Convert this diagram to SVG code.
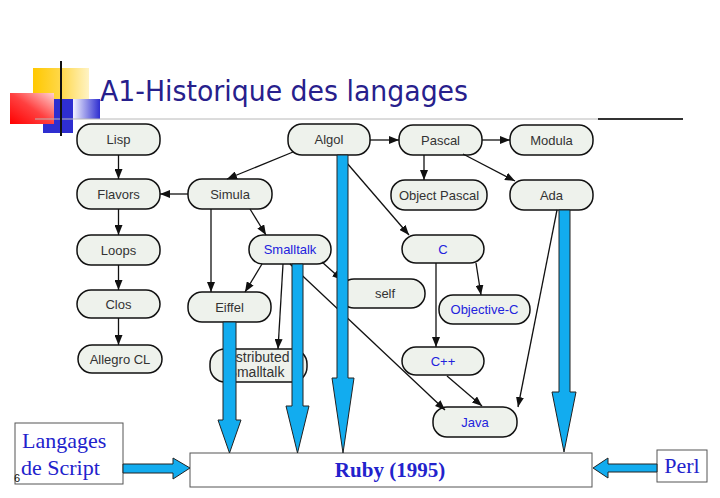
<svg xmlns="http://www.w3.org/2000/svg" width="720" height="498" viewBox="0 0 720 498">
  <style>
    .node rect { fill: #eef2ec; stroke: #111; stroke-width: 1.5; }
    .node text { font-family: "Liberation Sans", Arial, sans-serif; font-size: 13px; fill: #333; text-anchor: middle; }
    .node text.blue { fill: #2222dd; }
    .node text.small { font-size: 14px; }
    .edge { stroke: #111; stroke-width: 1.3; fill: none; marker-end: url(#head); }
    .big { fill: #12acef; stroke: #222; stroke-width: 1; stroke-linejoin: miter; }
    .box { fill: #fff; stroke: #555; stroke-width: 1; }
    .serif { font-family: "Liberation Serif", "Times New Roman", serif; fill: #2222cc; }
  </style>
  <defs>
    <marker id="head" markerWidth="10" markerHeight="8" refX="10" refY="4" orient="auto" markerUnits="userSpaceOnUse">
      <path d="M0,0 L10,4 L0,8 z" fill="#111"/>
    </marker>
    <linearGradient id="gYellow" x1="0" y1="0" x2="1" y2="0">
      <stop offset="0" stop-color="#ffc800"/>
      <stop offset="0.5" stop-color="#ffd84a"/>
      <stop offset="1" stop-color="#fff3c4"/>
    </linearGradient>
    <linearGradient id="gRed" x1="0" y1="1" x2="1" y2="0">
      <stop offset="0" stop-color="#ff0000"/>
      <stop offset="0.5" stop-color="#ff4040"/>
      <stop offset="1" stop-color="#ffd0d0"/>
    </linearGradient>
    <linearGradient id="gBlue" x1="0" y1="0" x2="1" y2="0">
      <stop offset="0" stop-color="#f4f4ff"/>
      <stop offset="1" stop-color="#2e2ed0"/>
    </linearGradient>
    <clipPath id="clipDist">
      <rect x="210" y="345" width="81" height="40"/>
    </clipPath>
  </defs>

  <!-- title decoration -->
  <g id="decoration">
    <rect x="33" y="68" width="56" height="40" fill="url(#gYellow)"/>
    <rect x="43" y="99" width="30" height="34" fill="#2e2ed0"/>
    <rect x="73" y="99" width="27" height="20" fill="url(#gBlue)"/>
    <rect x="10" y="93" width="44" height="31" fill="url(#gRed)"/>
    <line x1="35" y1="119" x2="598" y2="119" stroke="#b8b8b8" stroke-width="1"/>
    <line x1="598" y1="119" x2="683" y2="119" stroke="#333" stroke-width="2"/>
    <line x1="61" y1="61" x2="61" y2="136" stroke="#111" stroke-width="2"/>
  </g>
  <text x="100" y="101" font-family="'Comic Sans MS', 'DejaVu Sans', sans-serif" font-size="28" fill="#27208c" textLength="368" lengthAdjust="spacingAndGlyphs">A1-Historique des langages</text>

  <!-- language nodes -->
  <g id="lisp" class="node"><rect x="77" y="124" width="83" height="31" rx="14"/><text x="118.5" y="144">Lisp</text></g>
  <g id="algol" class="node"><rect x="288" y="124" width="82" height="31" rx="14"/><text x="329" y="144">Algol</text></g>
  <g id="pascal" class="node"><rect x="399" y="125" width="83" height="30" rx="14"/><text x="440.5" y="144.5">Pascal</text></g>
  <g id="modula" class="node"><rect x="510" y="125" width="83" height="30" rx="14"/><text x="551.5" y="144.5">Modula</text></g>
  <g id="flavors" class="node"><rect x="77" y="179" width="83" height="30" rx="14"/><text x="118.5" y="198.5">Flavors</text></g>
  <g id="simula" class="node"><rect x="188" y="179" width="84" height="30" rx="14"/><text x="230" y="198.5">Simula</text></g>
  <g id="object-pascal" class="node"><rect x="391" y="180" width="96" height="30" rx="14"/><text x="439" y="199.5">Object Pascal</text></g>
  <g id="ada" class="node"><rect x="510" y="180" width="83" height="30" rx="14"/><text x="551.5" y="199.5">Ada</text></g>
  <g id="loops" class="node"><rect x="77" y="235" width="83" height="30" rx="14"/><text x="118.5" y="254.5">Loops</text></g>
  <g id="smalltalk" class="node"><rect x="249" y="235" width="82" height="29" rx="14"/><text class="blue" x="290" y="254">Smalltalk</text></g>
  <g id="c" class="node"><rect x="402" y="235" width="82" height="28" rx="14"/><text class="blue" x="443" y="253.5">C</text></g>
  <g id="self" class="node"><rect x="340" y="279" width="85" height="29" rx="14"/><text x="385" y="298">self</text></g>
  <g id="clos" class="node"><rect x="77" y="290" width="83" height="28" rx="14"/><text x="118.5" y="308.5">Clos</text></g>
  <g id="eiffel" class="node"><rect x="188" y="292" width="83" height="30" rx="14"/><text x="229.5" y="311.5">Eiffel</text></g>
  <g id="objective-c" class="node"><rect x="439" y="295" width="91" height="29" rx="14"/><text class="blue" x="484.5" y="314">Objective-C</text></g>
  <g id="allegro-cl" class="node"><rect x="78" y="345" width="84" height="28" rx="14"/><text x="120" y="363.5">Allegro CL</text></g>
  <g id="distributed-smalltalk" class="node"><rect x="210" y="349" width="97" height="33" rx="15"/>
    <g clip-path="url(#clipDist)"><text class="small" x="256" y="362">Distributed</text><text class="small" x="256" y="377">Smalltalk</text></g>
  </g>
  <g id="cpp" class="node"><rect x="402" y="347" width="82" height="28" rx="14"/><text class="blue" x="443" y="365.5">C++</text></g>
  <g id="java" class="node"><rect x="433" y="407" width="84" height="30" rx="14"/><text class="blue" x="475" y="426.5">Java</text></g>

  <!-- script languages and target -->
  <g id="langages-de-script">
    <rect class="box" x="15" y="423" width="108" height="61"/>
    <text class="serif" x="22" y="448" font-size="22">Langages</text>
    <text class="serif" x="21" y="475" font-size="22">de Script</text>
    <text x="14" y="482" font-family="'Liberation Sans', Arial, sans-serif" font-size="11" fill="#111">6</text>
  </g>
  <g id="ruby">
    <rect class="box" x="190" y="453" width="402" height="34"/>
    <text class="serif" x="390" y="477" font-size="21" font-weight="bold" text-anchor="middle" fill="#2a2a9a">Ruby (1995)</text>
  </g>
  <g id="perl">
    <rect class="box" x="657" y="450" width="50" height="32"/>
    <text class="serif" x="682" y="473" font-size="22" text-anchor="middle">Perl</text>
  </g>

  <!-- connectors -->
  <g id="connectors">
    <line class="edge" x1="118.5" y1="155" x2="118.5" y2="179"/>
    <line class="edge" x1="118.5" y1="209" x2="118.5" y2="235"/>
    <line class="edge" x1="118.5" y1="265" x2="118.5" y2="290"/>
    <line class="edge" x1="118.5" y1="318" x2="118.5" y2="345"/>
    <line class="edge" x1="188" y1="194" x2="160" y2="194"/>
    <line class="edge" x1="293" y1="152" x2="227" y2="179"/>
    <line class="edge" x1="370" y1="140" x2="399" y2="140"/>
    <line class="edge" x1="482" y1="140" x2="510" y2="140"/>
    <line class="edge" x1="424" y1="155" x2="424" y2="180"/>
    <line class="edge" x1="463" y1="154" x2="515" y2="181"/>
    <line class="edge" x1="340" y1="155" x2="409" y2="235"/>
    <line class="edge" x1="211" y1="209" x2="211" y2="292"/>
    <line class="edge" x1="250" y1="209" x2="266" y2="235"/>
    <line class="edge" x1="262" y1="264" x2="245" y2="292"/>
    <line class="edge" x1="283" y1="264" x2="278" y2="349"/>
    <line class="edge" x1="322" y1="262" x2="342" y2="280"/>
    <line class="edge" x1="290" y1="264" x2="445" y2="410"/>
    <line class="edge" x1="476" y1="263" x2="481" y2="295"/>
    <line class="edge" x1="436" y1="263" x2="436" y2="347"/>
    <line class="edge" x1="447" y1="376" x2="482" y2="406"/>
    <line class="edge" x1="557" y1="210" x2="518" y2="407"/>

    <!-- inheritance into Ruby -->
    <polygon class="big" points="223,322 236,322 236,420 241,420 229.5,453 218,420 223,420"/>
    <polygon class="big" points="292,264 303,264 303,406 309,406 297.5,453 286,406 292,406"/>
    <polygon class="big" points="337,155 348,155 348,378 354,378 343,453 332,378 337,378"/>
    <polygon class="big" points="559,210 570,210 570,392 576,392 564,452 552,392 559,392"/>
    <polygon class="big" points="123,464 173,464 173,458 190,468 173,479 173,473 123,473"/>
    <polygon class="big" points="657,464 608,464 608,458 593,468 608,478 608,472 657,472"/>
  </g>
</svg>
